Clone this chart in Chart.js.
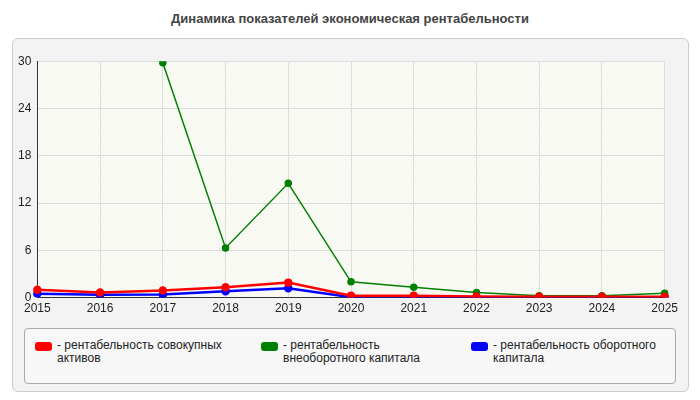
<!DOCTYPE html>
<html><head><meta charset="utf-8">
<script src="https://cdn.jsdelivr.net/npm/chart.js@4"></script>
<style>
body{margin:0;width:700px;height:400px;background:#fff;font-family:"Liberation Sans",Arial,sans-serif;}
#title{position:absolute;top:11px;left:0;width:700px;text-align:center;font-size:13px;font-weight:bold;color:#444;}
#panel{position:absolute;left:12px;top:38px;width:675px;height:352px;background:#f3f3f3;border:1px solid #ccc;border-radius:6px;}
#wrap{position:absolute;left:12px;top:48px;width:670px;height:272px;}
#legend{position:absolute;left:24px;top:328px;width:650px;height:54px;border:1px solid #aaa;border-radius:4px;background:#f7f7f7;font-size:12px;color:#222;}
.item{position:absolute;top:10px;line-height:13px;}
.sw{position:absolute;left:0;top:3px;width:17px;height:9px;border-radius:3px;}
.tx{position:absolute;left:22px;top:0;}
</style></head><body>
<div id="title">Динамика показателей экономическая рентабельности</div>
<div id="panel"></div>
<div id="wrap"><canvas id="c" width="670" height="272"></canvas></div>
<div id="legend"></div>
<script>
var years = ['2015','2016','2017','2018','2019','2020','2021','2022','2023','2024','2025'];
var assetsRet = [1.0,0.65,0.9,1.3,1.9,0.25,0.25,0.15,0.1,0.1,0.1];
var fixedRet = [null,null,29.8,6.3,14.5,2.0,1.3,0.65,0.25,0.25,0.55];
var currentRet = [0.5,0.35,0.4,0.8,1.2,0.05,0.1,0.05,0.05,0.05,0.05];
var names = ['рентабельность совокупных активов','рентабельность внеоборотного капитала','рентабельность оборотного капитала'];
var colors = ['#ff0000','#008000','#0000ff'];
var series = [assetsRet, fixedRet, currentRet];

var lx = [10, 236, 446];
var lw = [190, 160, 190];
var html = '';
for (var i = 0; i < names.length; i++) {
  html += '<div class="item" style="left:' + lx[i] + 'px;width:' + (lw[i] + 22) + 'px"><span class="sw" style="background:' + colors[i] + '"></span><span class="tx">- ' + names[i] + '</span></div>';
}
document.getElementById('legend').innerHTML = html;

var bg = {
  id: 'bg',
  beforeDraw: function(chart) {
    var a = chart.chartArea, ctx = chart.ctx;
    ctx.save();
    ctx.fillStyle = '#fdfdf8';
    ctx.fillRect(a.left, a.top, a.right - a.left, a.bottom - a.top);
    ctx.beginPath();
    ctx.rect(a.left, a.top, a.right - a.left, a.bottom - a.top);
    ctx.clip();
    ctx.strokeStyle = 'rgba(0,0,0,0.05)';
    ctx.lineWidth = 1;
    for (var x = a.left - 300; x < a.right; x += 4) {
      ctx.beginPath(); ctx.moveTo(x, a.bottom); ctx.lineTo(x + 300, a.top); ctx.stroke();
    }
    ctx.restore();
  }
};

new Chart(document.getElementById('c'), {
  type: 'line',
  data: {
    labels: years,
    datasets: series.map(function(d, i) {
      return {label: names[i], data: d, borderColor: colors[i], backgroundColor: colors[i],
        borderWidth: i == 1 ? 1.5 : 2.5, pointRadius: 3, pointHoverRadius: 3, tension: 0};
    })
  },
  options: {
    responsive: false, animation: false, maintainAspectRatio: false,
    layout: {padding: {left: 0, right: 12, top: 8, bottom: 0}},
    plugins: {legend: {display: false}, tooltip: {enabled: false}},
    scales: {
      x: {offset: false, grid: {color: '#ddd', drawTicks: false}, border: {color: '#333'},
          ticks: {color: '#222', font: {size: 12, family: 'Liberation Sans'}, padding: 4}},
      y: {min: 0, max: 30, grid: {color: '#ddd', drawTicks: false}, border: {color: '#333'},
          ticks: {stepSize: 6, color: '#222', font: {size: 12, family: 'Liberation Sans'}, padding: 6}}
    }
  },
  plugins: [bg]
});
</script>
</body></html>
